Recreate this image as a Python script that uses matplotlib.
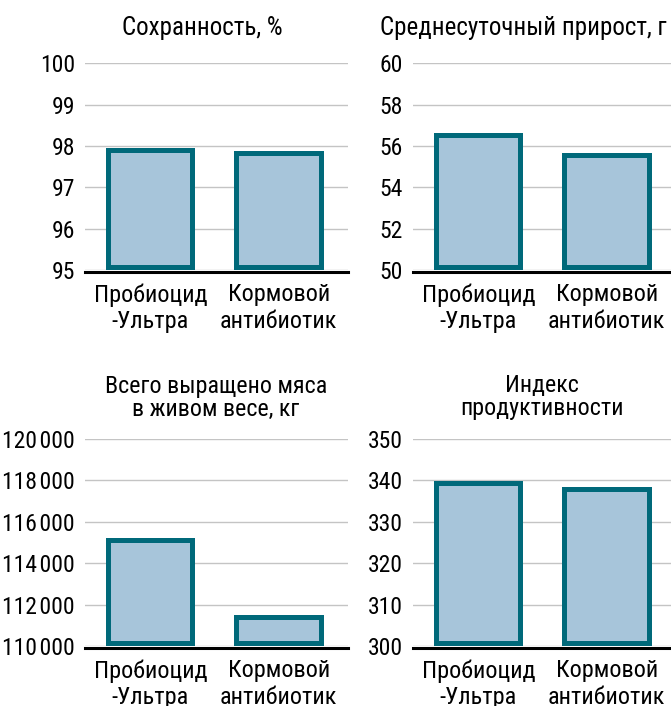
import matplotlib
matplotlib.use("Agg")
import matplotlib.pyplot as plt
from matplotlib.ticker import FuncFormatter

plt.rcParams['font.family'] = ['Roboto Condensed', 'DejaVu Sans']

categories = ["Пробиоцид\n-Ультра", "Кормовой\nантибиотик"]

titles = ["Сохранность, %", "Среднесуточный прирост, г",
          "Всего выращено мяса\nв живом весе, кг", "Индекс\nпродуктивности"]
survival = [97.94, 97.87]
daily_gain = [56.62, 55.66]
total_meat = [115230, 111480]
productivity = [339.9, 338.3]
series = [survival, daily_gain, total_meat, productivity]

ylims = [(95, 100), (50, 60), (110000, 120000), (300, 350)]
yticks = [[95, 96, 97, 98, 99, 100],
          [50, 52, 54, 56, 58, 60],
          [110000, 112000, 114000, 116000, 118000, 120000],
          [300, 310, 320, 330, 340, 350]]

W, H = 671, 706
fig = plt.figure(figsize=(W / 100, H / 100), dpi=100)

FILL = "#a7c5da"
EDGE = "#00697a"
GRID = "#c4c4c4"
FS = 17

# axes boxes in pixels: (left, top, width, bottom)
boxes = [(85, 63.3, 263, 270), (413, 63.3, 263, 270),
         (85, 439, 263, 646), (413, 439, 263, 646)]
title_pos = [(202, 28), (523, 28), (216, 398), (542, 397)]
title_fs = [18, 18, 17.3, 17.3]

def fmt_thousands(v, pos):
    return f"{int(v):,}".replace(",", "\u200a")

for i, (l, t, w, b) in enumerate(boxes):
    ax = fig.add_axes([l / W, 1 - b / H, w / W, (b - t) / H])
    x = list(range(len(categories)))
    base = ylims[i][0]
    heights = [v - base for v in series[i]]
    bars = ax.bar(x, heights, width=0.70, bottom=base, color=FILL,
                  edgecolor=EDGE, linewidth=7.2, zorder=3)
    for p in bars:
        p.set_clip_path(p)
    ax.set_xlim(-0.51, 1.54)
    ax.set_ylim(*ylims[i])
    ax.set_yticks(yticks[i])
    if i == 2:
        ax.yaxis.set_major_formatter(FuncFormatter(fmt_thousands))
    ax.set_xticks(x, categories)
    ax.tick_params(axis='both', length=0, labelsize=FS)
    ax.tick_params(axis='x', labelsize=17.5, pad=8.5)
    ax.tick_params(axis='y', pad=7.2)
    for lab in ax.get_xticklabels():
        lab.set_linespacing(1.12)
    ax.grid(axis='y', color=GRID, linewidth=1.0, zorder=0)
    ax.set_axisbelow(True)
    for s in ['top', 'right', 'left']:
        ax.spines[s].set_visible(False)
    ax.spines['bottom'].set_linewidth(2.2)
    ax.spines['bottom'].set_color('black')
    ax.spines['bottom'].set_position(('outward', 1.1))
    ax.spines['bottom'].set_zorder(5)
    ax.patch.set_visible(False)
    tx, ty = title_pos[i]
    fig.text(tx / W, 1 - ty / H, titles[i], ha='center', va='center',
             fontsize=title_fs[i], linespacing=0.95)

fig.savefig("out.png", dpi=100)
